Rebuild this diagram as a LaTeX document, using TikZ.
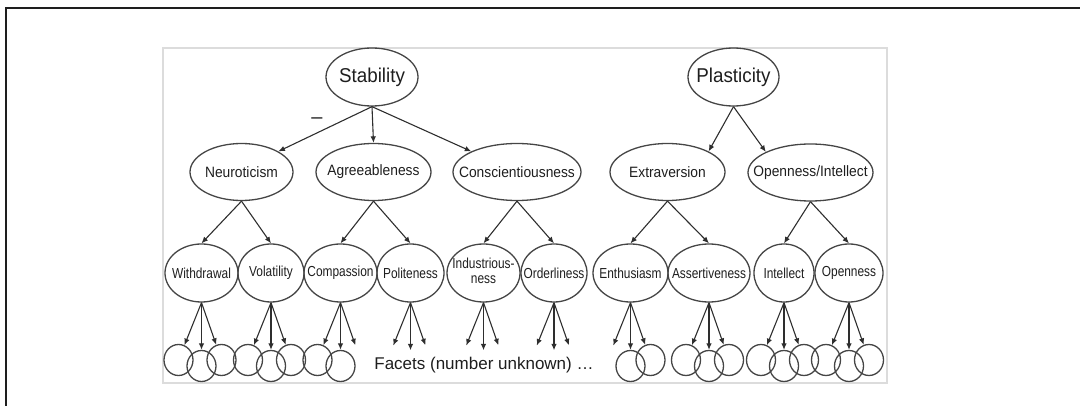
\documentclass[tikz,border=0pt]{standalone}
\usepackage{fontspec}
\setmainfont{Liberation Sans}
\newfontfamily\ftop[FakeStretch=0.94]{Liberation Sans}
\newfontfamily\fmid[FakeStretch=0.92]{Liberation Sans}
\newfontfamily\flow[FakeStretch=0.82]{Liberation Sans}
\usetikzlibrary{shapes.geometric,arrows.meta}
\definecolor{txtcol}{HTML}{1E1E1E}
\definecolor{ellcol}{HTML}{454545}
\definecolor{arrcol}{HTML}{2E2E2E}
\definecolor{panelcol}{HTML}{DCDCDC}
\definecolor{framecol}{HTML}{1E1E1E}
\newcommand{\mylbl}[1]{\makebox[0pt]{#1}}
\begin{document}
\begin{tikzpicture}[x=1pt,y=-1pt,
  ell/.style={ellipse,draw=ellcol,line width=1.3pt,inner sep=0pt,text=txtcol},
  topnode/.style={ell,minimum height=58pt,font=\fontsize{20}{22}\ftop},
  midnode/.style={ell,minimum height=57pt,font=\fontsize{15}{17}\fmid},
  lownode/.style={ell,minimum height=58pt,font=\fontsize{14.5}{15.5}\flow},
  circ/.style={ellipse,draw=ellcol,line width=1.3pt,inner sep=0pt,minimum width=29pt,minimum height=31pt},
  ghost/.style={ellipse,inner sep=0pt,minimum width=29pt,minimum height=31pt},
  arr/.style={draw=arrcol,line width=1.1pt,-{Latex[length=6.5pt,width=5.5pt]}}
]
\useasboundingbox (0,0) rectangle (1080,406);
% outer frame and panel
\draw[framecol,line width=1.5pt] (6,406) -- (6,8) -- (1080,8);
\draw[panelcol,line width=1.5pt] (163,48) rectangle (887,383);

% level 1
\node[topnode,minimum width=92pt] (stab) at (372,77) {\mylbl{Stability}};
\node[topnode,minimum width=91pt] (plas) at (733.5,77) {\mylbl{Plasticity}};

% level 2
\node[midnode,minimum width=103pt] (neu) at (241.5,172) {\mylbl{Neuroticism}};
\node[midnode,minimum width=115pt] (agr) at (373.5,172) {\mylbl{Agreeableness}};
\node[midnode,minimum width=128pt] (con) at (517,172) {\mylbl{Conscientiousness}};
\node[midnode,minimum width=115pt] (ext) at (667.5,172) {\mylbl{Extraversion}};
\node[midnode,minimum width=125pt] (oi) at (810.5,172.5) {\mylbl{Openness/Intellect}};

% level 3
\node[lownode,minimum width=73pt] (wd) at (201.5,273) {\mylbl{Withdrawal}};
\node[lownode,minimum width=66pt] (vol) at (271,273) {\mylbl{Volatility}};
\node[lownode,minimum width=73pt] (com) at (340.5,273) {\mylbl{Compassion}};
\node[lownode,minimum width=67pt] (pol) at (410.5,273) {\mylbl{Politeness}};
\node[lownode,minimum width=73pt] (ind) at (483.5,273) {\mylbl{\raisebox{-4pt}{\begin{tabular}{@{}c@{}}Industrious-\\ness\end{tabular}}}};
\node[lownode,minimum width=66pt] (ord) at (554,273) {\mylbl{Orderliness}};
\node[lownode,minimum width=75pt] (ent) at (630.5,273) {\mylbl{Enthusiasm}};
\node[lownode,minimum width=82pt] (ass) at (709,273) {\mylbl{Assertiveness}};
\node[lownode,minimum width=60pt] (int) at (784,273) {\mylbl{Intellect}};
\node[lownode,minimum width=68pt] (opn) at (849,273) {\mylbl{Openness}};

% level 1 -> 2
\draw[arr] (stab.south) -- (neu.north east);
\draw[arr] (stab.south) -- (agr.north);
\draw[arr] (stab.south) -- (con.north west);
\draw[arr] (plas.south) -- (ext.north east);
\draw[arr] (plas.south) -- (oi.north west);
\node[text=txtcol,font=\fontsize{20}{20}\selectfont] (minus) at (317,121) {--};

% level 2 -> 3
\draw[arr] (neu.south) -- (wd.north);
\draw[arr] (neu.south) -- (vol.north);
\draw[arr] (agr.south) -- (com.north);
\draw[arr] (agr.south) -- (pol.north);
\draw[arr] (con.south) -- (ind.north);
\draw[arr] (con.south) -- (ord.north);
\draw[arr] (ext.south) -- (ent.north);
\draw[arr] (ext.south) -- (ass.north);
\draw[arr] (oi.south) -- (int.north);
\draw[arr] (oi.south) -- (opn.north);

% facets
\foreach \n/\cx/\a/\b/\c in {wd/201.5/circ/circ/circ, vol/271/circ/circ/circ, com/340.5/circ/circ/ghost, pol/410.5/ghost/ghost/ghost, ind/483.5/ghost/ghost/ghost, ord/554/ghost/ghost/ghost, ent/630.5/ghost/circ/circ, ass/709/circ/circ/circ, int/784/circ/circ/circ, opn/849/circ/circ/circ} {
  \node[\a] (\n-l) at (\cx-23,360) {};
  \node[\c] (\n-r) at (\cx+20,360) {};
  \node[\b] (\n-m) at (\cx,366) {};
  \draw[arr] (\n.south) -- (\n-l);
  \draw[arr] (\n.south) -- (\n-m);
  \draw[arr] (\n.south) -- (\n-r);
}

\node[text=txtcol,font=\fontsize{17}{17}\selectfont] (facets) at (484,365) {Facets (number unknown) \dots};
\end{tikzpicture}
\end{document}
